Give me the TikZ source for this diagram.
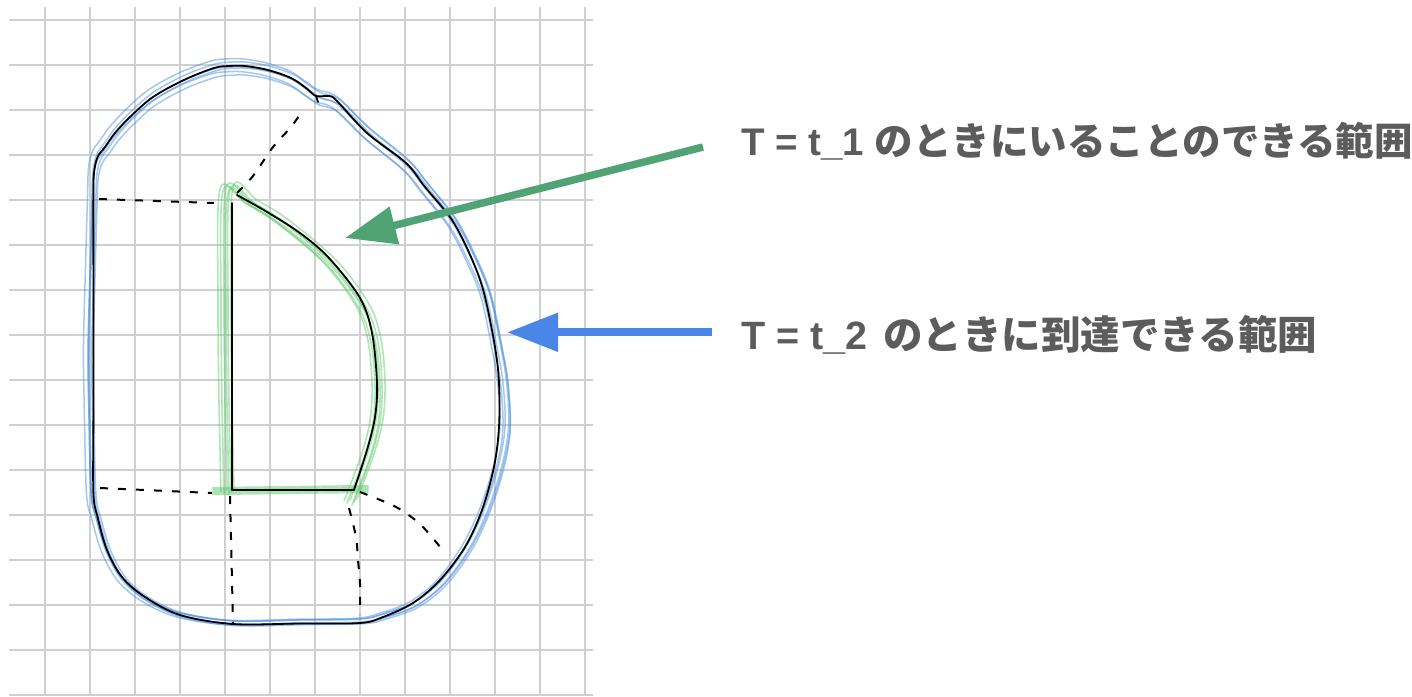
\documentclass[tikz,border=0pt]{standalone}
\usepackage{fontspec}
\setmainfont{Liberation Sans}
\newfontfamily\jpfont{Noto Sans CJK JP Bold}
\usetikzlibrary{arrows.meta}
\definecolor{gridgray}{HTML}{D0D0D0}
\definecolor{txtgray}{HTML}{5C5C5C}
\definecolor{arrgreen}{HTML}{4FA374}
\definecolor{arrblue}{HTML}{4A86E8}
\definecolor{sketchblue}{HTML}{4A8FE2}
\definecolor{sketchgreen}{HTML}{5FCB70}
\tikzset{
  gridline/.style={gridgray, line width=1.2pt},
  inkline/.style={black, line width=1.8pt, line cap=round, line join=round},
  bluesketch/.style={sketchblue, opacity=0.5, line width=1.5pt, line cap=round},
  greensketch/.style={sketchgreen, opacity=0.5, line width=1.6pt, line cap=round},
  dashline/.style={black, line width=2pt, dash pattern=on 8pt off 10pt},
  greenarrow/.style={arrgreen, line width=7.5pt, -{Triangle[length=51pt,width=37pt]}},
  bluearrow/.style={arrblue, line width=8pt, -{Triangle[length=51pt,width=37pt]}},
  lbl/.style={txtgray, inner sep=0pt, anchor=base west, font=\bfseries}
}
\begin{document}
\begin{tikzpicture}[x=1pt,y=-1pt]
\useasboundingbox (0,0) rectangle (1412,696);
% grid
\foreach \x in {45,90,...,585} \draw[gridline] (\x,7) -- (\x,696);
\foreach \y in {20,65,...,695} \draw[gridline] (9,\y) -- (593,\y);

% blue sketch strokes of outer region
\foreach \dx/\dy/\s in {0/0/1.0, 2/-1/1.014, -3/2/0.99, 4/3/1.006, -1/-2/1.022, 1/4/0.985} {
  \draw[bluesketch, shift={(295+\dx,345+\dy)}, scale=\s, shift={(-295,-345)}]
    plot[smooth cycle, tension=0.55] coordinates {
      (92,493) (90,420) (89,350) (91,270) (93,200) (94,173) (98,157) (105,147) (115,133)
      (130,117) (153,97) (184,80) (214,69) (230,67) (245,67) (268,71) (291,79) (306,89)
      (318,97) (337,104) (367,133) (406,165) (425,188) (452,222) (471,258) (486,295)
      (497,347) (503,383) (505,427) (498,467) (484,510) (466,547) (441,581) (413,603)
      (383,614) (360,619) (300,620) (233,621) (180,613) (145,597) (122,577) (107,550) (97,517)};
}
% black outer region
\draw[inkline] plot[smooth cycle, tension=0.55] coordinates {
  (93.4,493) (93.4,420) (93.4,350) (93.4,270) (93.4,200) (94,173) (97.6,157) (105,147) (115,133)
  (130,117) (153,97) (184,80) (214,68) (230,66) (245,66) (268,70) (291,78) (306,88)
  (316,96) (329,96) (337,101) (367,133) (406,163) (425,187) (452,220) (471,257) (484,293)
  (495,347) (499,383) (499,427) (494,467) (482,510) (465,547) (440,580) (413,603)
  (383,617) (360,623) (300,623.5) (233,624) (180,615) (145,597) (122,577) (107,550) (97.6,517)};
\draw[inkline] (316,96) -- (318,102);

% green sketch strokes of inner region
\foreach \dx/\dy in {0/0, 4/2, -3/3, 7/-1, 2/5, -6/1} {
  \draw[greensketch, shift={(\dx,\dy)}]
    plot[smooth, tension=0.55] coordinates {(227,490) (225,400) (224,300) (226,188)
      (250,201) (283,222) (330,262) (362,305) (374,340) (378,383) (376,420) (367,455) (350,500)};
}
\foreach \dy in {-3,-1,1,3} {
  \draw[greensketch, line width=2.2pt] (213,491+\dy) -- (368,489+\dy);
}

% black inner region
\draw[inkline] (232.3,490) -- (232.3,203);
\draw[inkline] plot[smooth, tension=0.55] coordinates {(237,195) (267,212) (300,233) (329,258)
  (360,298) (372,333) (377,383) (375,417) (367,450) (354,490)};
\draw[inkline] (232.3,490) -- (354,490);

% dashed construction lines
\draw[dashline] (99,199) -- (214,203);
\draw[dashline] plot[smooth] coordinates {(237,193) (253,176) (273,147) (291,127) (303,110)};
\draw[dashline] (100,488) -- (212,493);
\draw[dashline] (230,496) -- (233,623);
\draw[dashline] plot[smooth] coordinates {(349,508) (356,537) (358,560) (360,584) (360,615)};
\draw[dashline] plot[smooth] coordinates {(360,492) (396,507) (421,525) (445,553)};

% labels
\node[lbl, font=\bfseries\fontsize{38.5}{40}\selectfont] (t1) at (741,155)
  {T = t\_1 {\jpfont のときにいることのできる範囲}};
\node[lbl, font=\bfseries\fontsize{39.5}{41}\selectfont] (t2) at (741,349.7)
  {T = t\_2\hspace{5pt} {\jpfont のときに到達できる範囲}};

% arrows
\coordinate (s1) at (703,147);
\coordinate (tip1) at (345,238);
\coordinate (s2) at (712,332.3);
\coordinate (tip2) at (507,332.3);
\draw[greenarrow] (s1) -- (tip1);
\draw[bluearrow] (s2) -- (tip2);
\end{tikzpicture}
\end{document}
